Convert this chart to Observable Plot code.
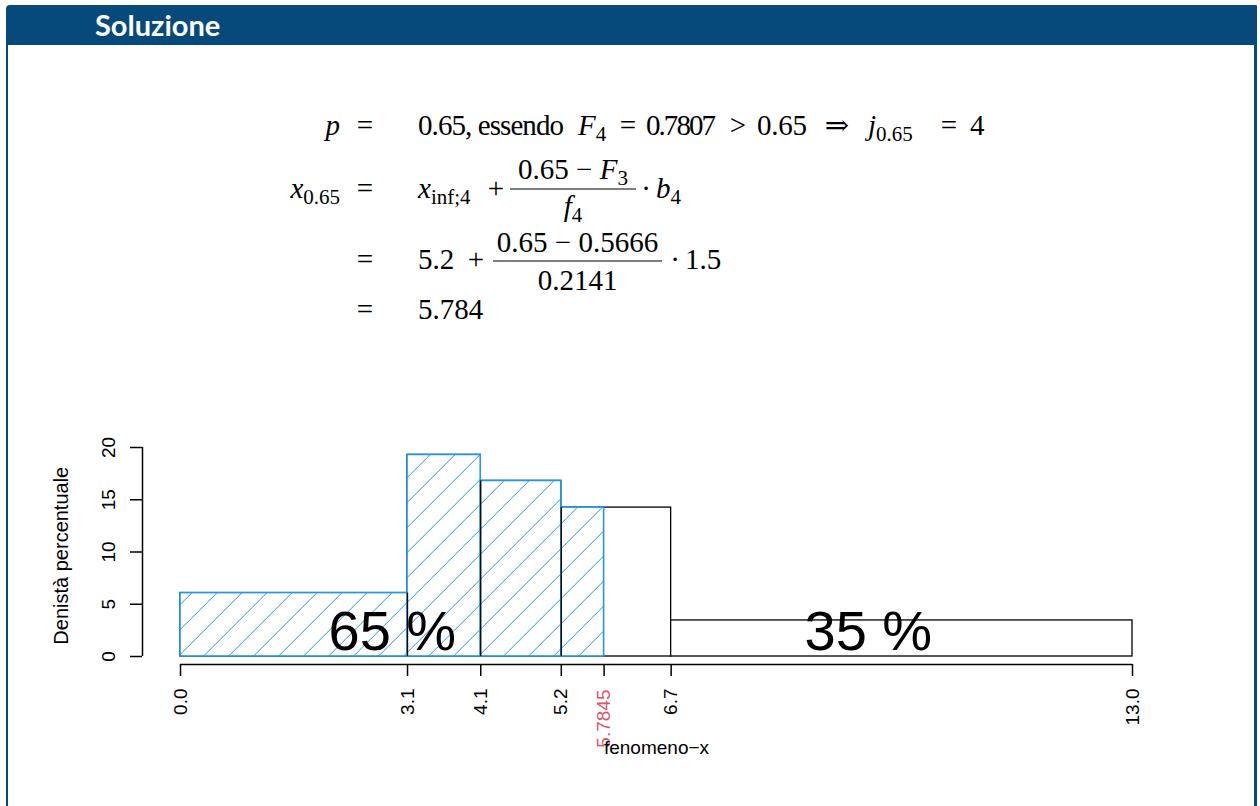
<!DOCTYPE html>
<html>
<head>
<meta charset="utf-8">
<script src="https://cdn.jsdelivr.net/npm/d3@7"></script>
<script src="https://cdn.jsdelivr.net/npm/@observablehq/plot@0.6"></script>
<style>
  html, body { margin: 0; padding: 0; background: #fff; overflow: hidden; }
  #page { position: relative; width: 1260px; height: 806px; }
  #header { position: absolute; left: 6px; top: 5px; width: 1251px; height: 40px; background: #064a7b; border-top-left-radius: 4px; border-top-right-radius: 1px; }
  #header span { position: absolute; left: 89px; top: 2px; font-family: Lato, "Open Sans", sans-serif; font-weight: bold; font-size: 29px; color: #fff; }
  #lb { position: absolute; left: 6px; top: 45px; width: 2px; height: 761px; background: #064a7b; }
  #rb { position: absolute; left: 1254px; top: 45px; width: 3px; height: 761px; background: #064a7b; }
  #math { position: absolute; left: 0; top: 0; }
  #math text { font-family: "Liberation Serif", "DejaVu Serif", serif; font-size: 29px; fill: #000; }
  #math tspan.s { font-size: 21px; }
  #chart { position: absolute; left: 0; top: 400px; }
  #chart g[aria-label^="x-axis"], #chart g[aria-label^="y-axis"] { stroke-width: 1.5px; }
</style>
</head>
<body>
<div id="page">
  <div id="header"><span>Soluzione</span></div>
  <div id="lb"></div>
  <div id="rb"></div>
  <svg id="math" width="1260" height="400" xmlns="http://www.w3.org/2000/svg">
    <!-- row 1 -->
    <text x="340" y="135" text-anchor="end" font-style="italic">p</text>
    <text x="365" y="135" text-anchor="middle">=</text>
    <text x="418" y="135" textLength="146" lengthAdjust="spacing">0.65, essendo</text>
    <text x="578" y="135"><tspan font-style="italic">F</tspan><tspan class="s" dy="6">4</tspan></text>
    <text x="628" y="135" text-anchor="middle">=</text>
    <text x="646" y="135" textLength="70" lengthAdjust="spacing">0.7807</text>
    <text x="738" y="135" text-anchor="middle">&gt;</text>
    <text x="757" y="135" textLength="50" lengthAdjust="spacing">0.65</text>
    <text x="837" y="135" text-anchor="middle">⇒</text>
    <text x="868" y="135"><tspan font-style="italic">j</tspan><tspan class="s" dy="6">0.65</tspan></text>
    <text x="949" y="135" text-anchor="middle">=</text>
    <text x="970" y="135">4</text>
    <!-- row 2 -->
    <text x="340" y="198" text-anchor="end"><tspan font-style="italic">x</tspan><tspan class="s" dy="6">0.65</tspan></text>
    <text x="365" y="198" text-anchor="middle">=</text>
    <text x="418" y="198"><tspan font-style="italic">x</tspan><tspan class="s" dy="6">inf;4</tspan></text>
    <text x="496" y="198" text-anchor="middle">+</text>
    <text x="573" y="179" text-anchor="middle">0.65 − <tspan font-style="italic">F</tspan><tspan class="s" dy="6">3</tspan></text>
    <line x1="510" x2="636" y1="189" y2="189" stroke="#000" stroke-width="1.2"></line>
    <text x="573" y="216" text-anchor="middle"><tspan font-style="italic">f</tspan><tspan class="s" dy="6">4</tspan></text>
    <text x="646" y="198" text-anchor="middle">·</text>
    <text x="656" y="198"><tspan font-style="italic">b</tspan><tspan class="s" dy="6">4</tspan></text>
    <!-- row 3 -->
    <text x="365" y="269" text-anchor="middle">=</text>
    <text x="418" y="269">5.2</text>
    <text x="476" y="269" text-anchor="middle">+</text>
    <text x="577.5" y="252" text-anchor="middle">0.65 − 0.5666</text>
    <line x1="493" x2="662" y1="261" y2="261" stroke="#000" stroke-width="1.2"></line>
    <text x="577.5" y="290" text-anchor="middle">0.2141</text>
    <text x="675" y="269" text-anchor="middle">·</text>
    <text x="685" y="269">1.5</text>
    <!-- row 4 -->
    <text x="365" y="319" text-anchor="middle">=</text>
    <text x="418" y="319">5.784</text>
  </svg>
  <div id="chart"></div>
</div>
<script>
// ---- data ----
const breaks = [0, 3.1, 4.1, 5.2, 6.7, 13];
const density = [6.07, 19.29, 16.8, 14.25, 3.45];
const quantile = 5.7845;
const prob = 0.65;
const yTicks = [0, 5, 10, 15, 20];
const yLabel = "Denistà percentuale";
const xLabel = "fenomeno−x";

// ---- derived tables ----
const bars = density.map((h, i) => ({x1: breaks[i], x2: breaks[i + 1], h}));
const hatched = bars.filter(b => b.x1 < quantile).map(b => ({...b, x2: Math.min(b.x2, quantile)}));
const inner = breaks.slice(1, -1)
  .map((b, i) => ({x: b, h: Math.min(density[i], density[i + 1])}))
  .filter(d => d.x < quantile);
const xMax = breaks[breaks.length - 1];
const pct = [
  {x: quantile / 2, t: `${Math.round(prob * 100)} %`},
  {x: (quantile + xMax) / 2, t: `${Math.round((1 - prob) * 100)} %`}
];
const xTicks = [...breaks, quantile].sort((a, b) => a - b);
const fmt1 = d3.format(".1f");

const chart = Plot.plot({
  width: 1260,
  height: 380,
  marginLeft: 142,
  marginRight: 128,
  marginTop: 47,
  marginBottom: 116,
  x: {domain: [0, xMax], insetLeft: 38, ticks: xTicks, tickSize: 12, tickFormat: () => "", label: null},
  y: {domain: [0, 20], insetBottom: 8, ticks: yTicks, tickSize: 12, tickFormat: () => "", label: null},
  style: {fontFamily: "'Liberation Sans', Arial, sans-serif", fontSize: "19px", background: "transparent", overflow: "visible", color: "#000"},
  marks: [
    Plot.rect(bars, {x1: "x1", x2: "x2", y1: 0, y2: "h", fill: "white", stroke: "black", strokeWidth: 1.3}),
    Plot.rect(hatched, {x1: "x1", x2: "x2", y1: 0, y2: "h", fill: "url(#hatch)", stroke: "#2297E6", strokeWidth: 1.6}),
    Plot.ruleX(inner, {x: "x", y1: 0, y2: "h", stroke: "black", strokeWidth: 1.3}),
    Plot.ruleY([0], {x1: 0, x2: xMax, dy: 8, stroke: "black", strokeWidth: 1.5}),
    Plot.ruleX([0], {y1: yTicks[0], y2: yTicks[yTicks.length - 1], dx: -38, stroke: "black", strokeWidth: 1.5}),
    Plot.text(pct, {x: "x", y: 0, text: "t", fontSize: 56, dy: -24, fill: "black"}),
    Plot.text(breaks, {x: d => d, y: 0, text: d => fmt1(d), rotate: -90, textAnchor: "end", dy: 32, fill: "black"}),
    Plot.text([quantile], {x: d => d, y: 0, text: d => String(d), rotate: -90, textAnchor: "end", dy: 33, fill: "#DF536B"}),
    Plot.text(yTicks, {x: 0, y: d => d, text: d => String(d), rotate: -90, dx: -72, fill: "black"}),
    Plot.text([yLabel], {x: 0, y: d3.max(density) / 2, text: d => d, rotate: -90, dx: -119, fontSize: 20, fill: "black"}),
    Plot.text([xLabel], {x: xMax / 2, y: 0, text: d => d, dy: 91, fill: "black"})
  ]
});

// hatch pattern definition
const NS = "http://www.w3.org/2000/svg";
const defs = document.createElementNS(NS, "defs");
const pat = document.createElementNS(NS, "pattern");
pat.setAttribute("id", "hatch");
pat.setAttribute("patternUnits", "userSpaceOnUse");
pat.setAttribute("width", "25");
pat.setAttribute("height", "25");
pat.setAttribute("x", "9.7");
pat.setAttribute("y", "0");
const bg = document.createElementNS(NS, "rect");
bg.setAttribute("width", "25"); bg.setAttribute("height", "25"); bg.setAttribute("fill", "white");
const ln = document.createElementNS(NS, "path");
ln.setAttribute("d", "M0,25L25,0M-5,5L5,-5M20,30L30,20");
ln.setAttribute("stroke", "#2297E6");
ln.setAttribute("stroke-width", "1");
pat.appendChild(bg);
pat.appendChild(ln);
defs.appendChild(pat);
chart.insertBefore(defs, chart.firstChild);

document.getElementById("chart").appendChild(chart);
</script>
</body>
</html>
